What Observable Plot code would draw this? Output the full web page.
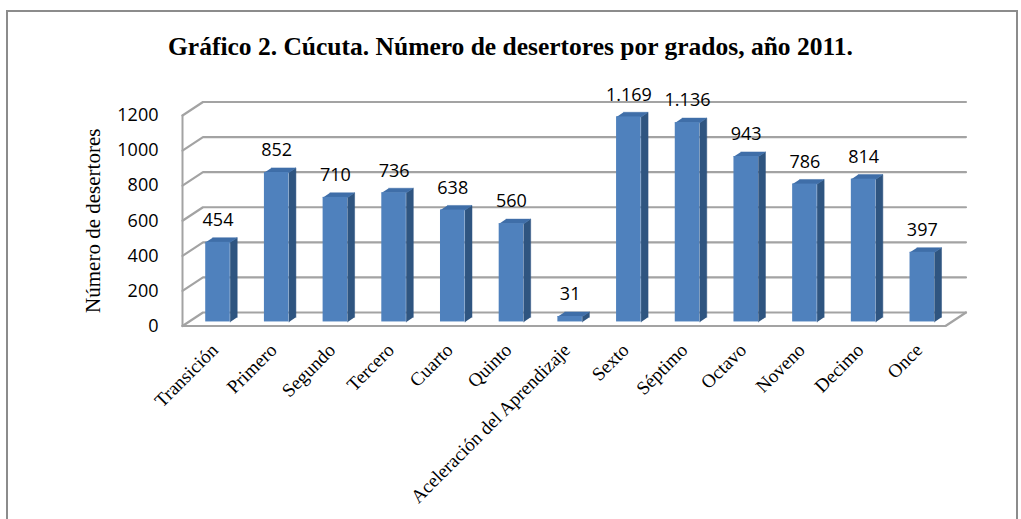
<!DOCTYPE html>
<html><head><meta charset="utf-8">
<script src="https://cdn.jsdelivr.net/npm/d3@7"></script>
<script src="https://cdn.jsdelivr.net/npm/@observablehq/plot@0.6"></script>
<style>
body{margin:0;background:#fff;width:1021px;height:519px;overflow:hidden;position:relative}
#frame{position:absolute;left:6px;top:10px;width:1012px;height:540px;border:2px solid #8c8c8c;box-sizing:border-box}
#title{position:absolute;left:0;top:32px;width:1021px;text-align:center;font:bold 25.5px "Liberation Serif",serif;line-height:30px;color:#000}
#chart{position:absolute;left:0;top:70px}
</style></head><body>
<div id="frame"></div>
<div id="title">Gráfico 2. Cúcuta. Número de desertores por grados, año 2011.</div>
<div id="chart"></div>
<script>
const grados = ["Transición","Primero","Segundo","Tercero","Cuarto","Quinto","Aceleración del Aprendizaje","Sexto","Séptimo","Octavo","Noveno","Decimo","Once"];
const desertores = [454,852,710,736,638,560,31,1169,1136,943,786,814,397];
const yTicks = [0,200,400,600,800,1000,1200];
const yTitle = "Número de desertores";

const data = grados.map((g,i)=>({i, g, v: desertores[i]}));
const n = grados.length;
const fmt = d3.formatLocale({decimal:",", thousands:".", grouping:[3], currency:["","€"]}).format(",");

// 3D depth in scale units
const DX = 0.349, DY = 77;
const s0 = 0.30, s1 = 0.64, half = 0.209;
const xL = -0.5, xR = n - 0.5;

const grid = yTicks.flatMap(t => [
  {x:xL, y:t, z:t},
  {x:xL+DX, y:t+DY, z:t},
  {x:xR+DX, y:t+DY, z:t}
]);
const floor = [{x:xL,y:0},{x:xR,y:0},{x:xR+DX,y:DY}];
const wallEdge = [{x:xL,y:0},{x:xL,y:yTicks[yTicks.length-1]}];

const fx1 = d => d.i + s0*DX - half, fx2 = d => d.i + s0*DX + half;
const sides = data.flatMap(d => {
  const a = fx2(d), b0 = s0*DY, top = d.v + s0*DY, dd = (s1-s0);
  return [
    {x:a, y:b0, z:d.i},
    {x:a, y:top, z:d.i},
    {x:a+dd*DX, y:top+dd*DY, z:d.i},
    {x:a+dd*DX, y:b0+dd*DY, z:d.i}
  ];
});
const tops = data.flatMap(d => {
  const a = fx1(d), b = fx2(d), top = d.v + s0*DY, dd = (s1-s0);
  return [
    {x:a, y:top, z:d.i},
    {x:b, y:top, z:d.i},
    {x:b+dd*DX, y:top+dd*DY, z:d.i},
    {x:a+dd*DX, y:top+dd*DY, z:d.i}
  ];
});

const chart = Plot.plot({
  width: 1021, height: 449,
  marginLeft: 182, marginRight: 76, marginTop: 45, marginBottom: 193.5,
  x: {type:"linear", domain:[xL, xR], axis:null},
  y: {domain:[0,1200], axis:null},
  style: {background:"transparent", overflow:"visible"},
  marks: [
    Plot.line(grid, {x:"x", y:"y", z:"z", stroke:"#a3a3a3", strokeWidth:2.2}),
    Plot.line(floor, {x:"x", y:"y", stroke:"#a3a3a3", strokeWidth:2.2}),
    Plot.line(wallEdge, {x:"x", y:"y", stroke:"#a3a3a3", strokeWidth:2}),
    Plot.line(sides, {x:"x", y:"y", z:"z", fill:"#2f5580", stroke:"#2f5580", strokeWidth:0.5}),
    Plot.line(tops, {x:"x", y:"y", z:"z", fill:"#3f6ea8", stroke:"#3f6ea8", strokeWidth:0.5}),
    Plot.rect(data, {x1:fx1, x2:fx2, y1: s0*DY, y2: d => d.v + s0*DY, fill:"#4f81bd"}),
    Plot.text(data, {x: d => d.i + s0*DX, y: d => d.v + s0*DY, text: d => fmt(d.v), dy:-22,
      fontFamily:"Open Sans", fontSize:18, fill:"#000"}),
    Plot.text(data, {x:"i", y:0, text:"g", rotate:-45, textAnchor:"end", dy:21, dx:3,
      fontFamily:"Liberation Serif", fontSize:19, fill:"#000"}),
    Plot.text(yTicks, {x: xL, y: d => d, text: d => String(d), dx:-24, textAnchor:"end",
      fontFamily:"Open Sans", fontSize:18, fill:"#000"}),
    Plot.text([yTitle], {x: xL, y: 600, dx:-89, rotate:-90, fontFamily:"Liberation Serif", fontSize:21, fill:"#000"})
  ]
});
document.getElementById("chart").appendChild(chart);
</script>
</body></html>
